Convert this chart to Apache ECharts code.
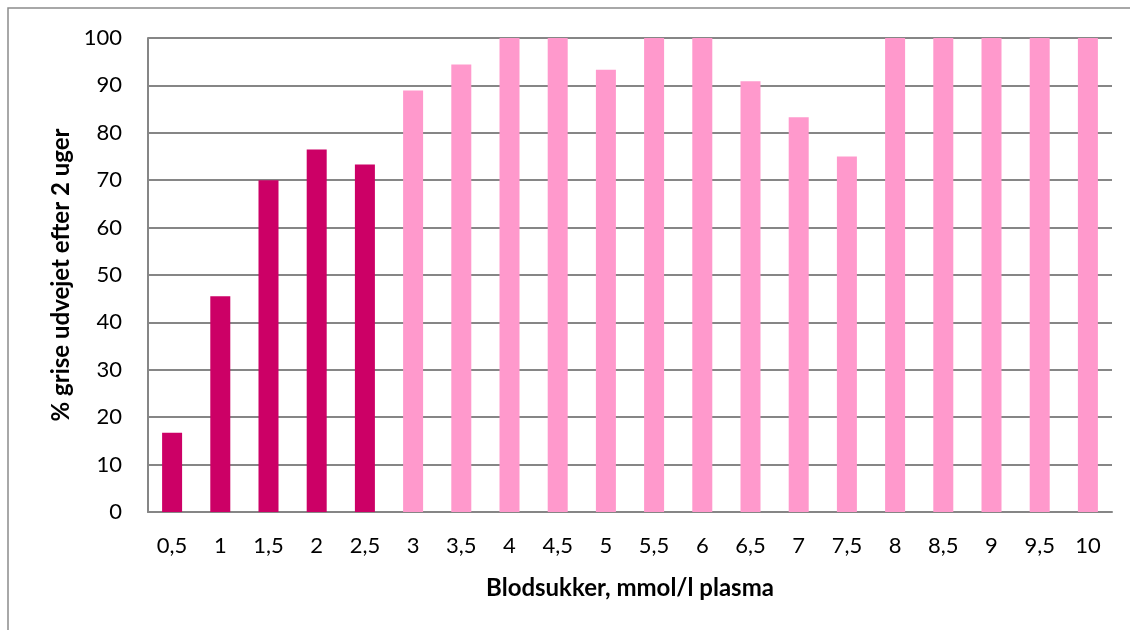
<!DOCTYPE html>
<html><head><meta charset="utf-8">
<script src="https://cdn.jsdelivr.net/npm/echarts@6/dist/echarts.min.js"></script>
<style>html,body{margin:0;padding:0;background:#fff}#c{width:1130px;height:630px}</style>
</head><body><div id="c"></div>
<script>
const categories = ['0,5','1','1,5','2','2,5','3','3,5','4','4,5','5','5,5','6','6,5','7','7,5','8','8,5','9','9,5','10'];
const values = [16.7,45.5,70,76.5,73.3,88.9,94.4,100,100,93.3,100,100,90.9,83.3,75,100,100,100,100,100];
const lowGroupCount = 5; // first five categories (<= 2,5 mmol/l) dark colour
const darkColor = '#CC0066', lightColor = '#FF99CC';
const yTicks = [0,10,20,30,40,50,60,70,80,90,100];
const chart = echarts.init(document.getElementById('c'), null, {renderer:'canvas'});
const font = 'Lato, "Open Sans", sans-serif';
chart.setOption({
  animation:false,
  backgroundColor:'#fff',
  graphic:[{type:'rect',shape:{x:8,y:8,width:1140,height:640},style:{fill:'none',stroke:'#8c8c8c',lineWidth:1.5},silent:true}],
  grid:{left:148,right:18,top:38,bottom:118,containLabel:false},
  xAxis:{type:'category',data:categories,
    name:'Blodsukker, mmol/l plasma',nameLocation:'middle',nameGap:64,
    nameTextStyle:{fontFamily:font,fontWeight:'bold',fontSize:24,color:'#000'},
    axisLine:{lineStyle:{color:'#868686',width:2}},axisTick:{show:false},
    axisLabel:{fontFamily:font,fontSize:22,color:'#000',margin:23,interval:0}},
  yAxis:{type:'value',min:yTicks[0],max:yTicks[yTicks.length-1],interval:10,
    name:'% grise udvejet efter 2 uger',nameLocation:'middle',nameGap:74,
    nameTextStyle:{fontFamily:font,fontWeight:'bold',fontSize:24,color:'#000'},
    axisLine:{show:true,lineStyle:{color:'#868686',width:2}},axisTick:{show:false},
    splitLine:{lineStyle:{color:'#868686',width:2}},
    axisLabel:{fontFamily:font,fontSize:22,color:'#000',margin:26}},
  series:[{type:'bar',data:values,barWidth:20,
    itemStyle:{color:p=>p.dataIndex<lowGroupCount?darkColor:lightColor}}]
});
</script></body></html>
